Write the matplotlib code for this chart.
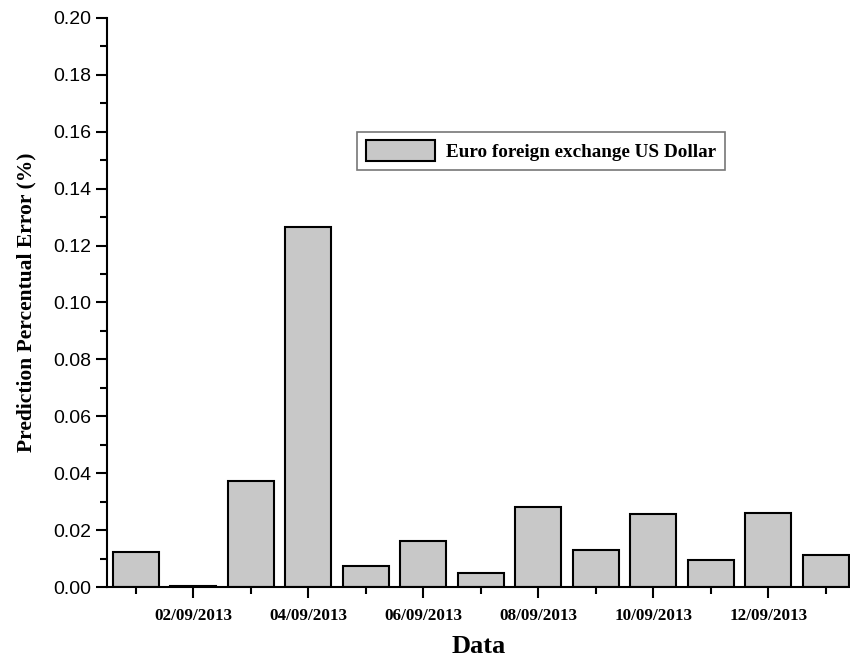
import matplotlib
matplotlib.use("Agg")
import matplotlib.pyplot as plt
from matplotlib.ticker import MultipleLocator, FixedLocator

positions = list(range(1, 14))
values = [0.0123, 0.0005, 0.0372, 0.1265, 0.0075, 0.0162, 0.0048,
          0.0280, 0.0130, 0.0256, 0.0095, 0.0261, 0.0111]
tick_positions = [2, 4, 6, 8, 10, 12]
tick_labels = ["02/09/2013", "04/09/2013", "06/09/2013",
               "08/09/2013", "10/09/2013", "12/09/2013"]
series_name = "Euro foreign exchange US Dollar"

fig = plt.figure(figsize=(8.5, 6.63), dpi=100)
ax = fig.add_axes([0.126, 0.1146, 0.874, 0.8583])

ax.bar(positions, values, width=0.8, color="#c8c8c8", edgecolor="black",
       linewidth=1.5, label=series_name)

ax.set_xlim(0.5, 13.42)
ax.set_ylim(0, 0.20)
ax.yaxis.set_major_locator(MultipleLocator(0.02))
ax.yaxis.set_minor_locator(MultipleLocator(0.01))
ax.xaxis.set_major_locator(FixedLocator(tick_positions))
ax.xaxis.set_minor_locator(FixedLocator([p for p in positions if p not in tick_positions]))
ax.set_xticklabels(tick_labels, fontfamily="Liberation Serif", fontweight="bold", fontsize=12.3)
ax.set_yticks([round(0.02 * i, 2) for i in range(11)])
ax.set_yticklabels([f"{0.02 * i:.2f}" for i in range(11)], fontfamily="Liberation Sans", fontsize=14)

for s in ["top", "right"]:
    ax.spines[s].set_visible(False)
for s in ["left", "bottom"]:
    ax.spines[s].set_linewidth(1.5)

ax.tick_params(axis="both", which="major", direction="out", length=8, width=1.5)
ax.tick_params(axis="both", which="minor", direction="out", length=5, width=1.5)
ax.tick_params(axis="x", which="major", pad=7)

ax.set_xlabel("Data", fontfamily="Liberation Serif", fontweight="bold", fontsize=19, labelpad=8)
ax.set_ylabel("Prediction Percentual Error (%)", fontfamily="Liberation Serif",
              fontweight="bold", fontsize=15.5, labelpad=12)

leg = ax.legend(loc="upper left", bbox_to_anchor=(0.3235, 0.817), frameon=True,
                fancybox=False, edgecolor="#555555", handlelength=3.6, handleheight=1.3,
                prop={"family": "Liberation Serif", "weight": "bold", "size": 13.8},
                borderpad=0.45, handletextpad=0.6)
leg.get_frame().set_linewidth(1.2)

fig.savefig("out.png", dpi=100)
